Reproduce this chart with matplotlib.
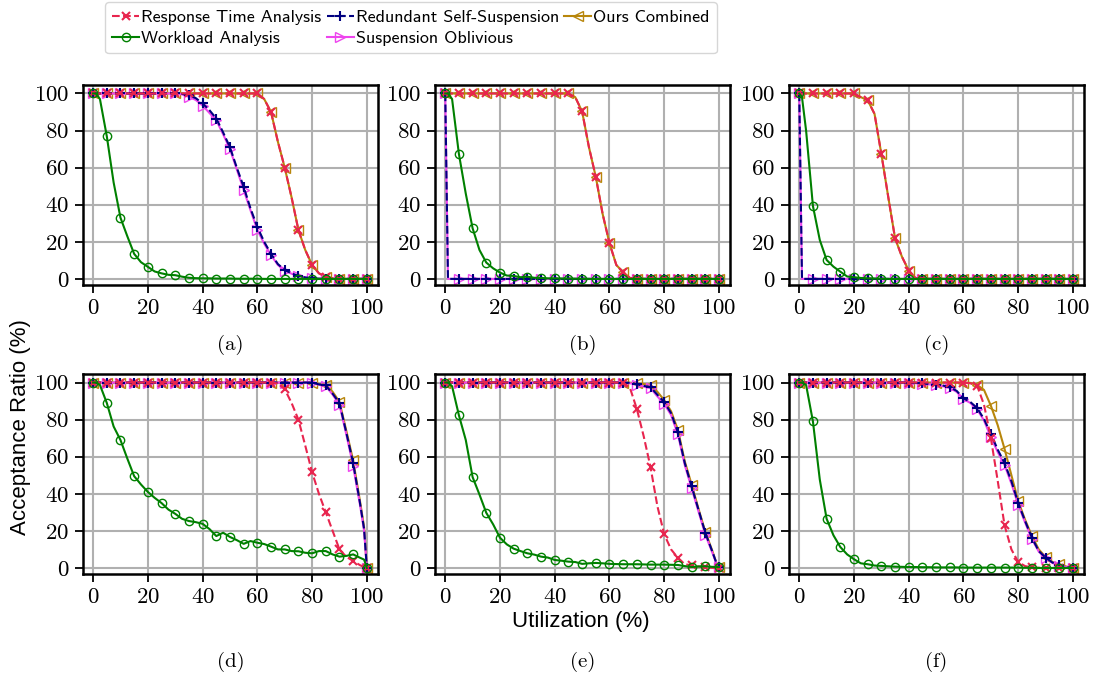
import matplotlib
matplotlib.use('Agg')
import matplotlib.pyplot as plt

plt.rcParams['axes.formatter.use_mathtext'] = True
plt.rcParams['mathtext.fontset'] = 'cm'

# utilization grid (%), markers drawn at multiples of 5
util = [0, 1, 2.5, 5, 7.5, 10, 12.5, 15, 17.5, 20, 22.5, 25, 27.5, 30, 32.5, 35, 37.5, 40,
        42.5, 45, 47.5, 50, 52.5, 55, 57.5, 60, 62.5, 65, 67.5, 70, 72.5, 75, 77.5, 80,
        82.5, 85, 87.5, 90, 92.5, 95, 97.5, 99, 100]

labels = ["Response Time Analysis", "Workload Analysis", "Redundant Self-Suspension",
          "Suspension Oblivious", "Ours Combined"]
panels = ["(a)", "(b)", "(c)", "(d)", "(e)", "(f)"]

# (a)
rta_a = [100, 100, 100, 100, 100, 100, 100, 100, 100, 100, 100, 100, 100, 100, 100, 100, 100, 100,
         100, 100, 100, 100, 100, 100, 100, 100, 97, 90, 74, 60, 44, 26.4, 15.6, 7.5,
         3, 1.2, 0.3, 0, 0, 0, 0, 0, 0]
wl_a = [100, 100, 97, 77, 52, 33, 23, 13.5, 9, 6.5, 4, 3, 2.2, 2, 1.2, 0.6, 0.4, 0.3,
        0.3, 0.2, 0.2, 0.2, 0.1, 0.1, 0.1, 0.1, 0, 0, 0, 0, 0, 0, 0, 0,
        0, 0, 0, 0, 0, 0, 0, 0, 0]
rss_a = [100, 100, 100, 100, 100, 100, 100, 100, 100, 100, 100, 100, 100, 100, 99.8, 99, 97.5, 94.6,
         91, 86.5, 79, 71, 60, 49.7, 38, 28, 20, 13.5, 8, 4.8, 3, 1.6, 0.8, 0.3,
         0.1, 0, 0, 0, 0, 0, 0, 0, 0]
so_a = [100, 100, 100, 100, 100, 100, 100, 100, 100, 100, 100, 100, 100, 100, 99.5, 98.2, 96.5, 93.5,
        89.5, 85.6, 78, 70, 59, 48, 37, 26.4, 19, 12.8, 7.5, 4.5, 2.8, 1.5, 0.7, 0.3,
        0.1, 0, 0, 0, 0, 0, 0, 0, 0]
ours_a = [100, 100, 100, 100, 100, 100, 100, 100, 100, 100, 100, 100, 100, 100, 100, 100, 100, 100,
          100, 100, 100, 100, 100, 100, 100, 100, 97, 90, 74, 60, 44, 26.4, 15.6, 7.5,
          3, 1.2, 0.3, 0, 0, 0, 0, 0, 0]

# (b)
rta_b = [100, 100, 100, 100, 100, 100, 100, 100, 100, 100, 100, 100, 100, 100, 100, 100, 100, 100,
         100, 100, 98, 90.3, 71, 55, 35, 19.2, 7.5, 3.6, 0.5, 0.1, 0, 0, 0, 0,
         0, 0, 0, 0, 0, 0, 0, 0, 0]
wl_b = [100, 100, 97, 67.3, 46, 27.3, 15.6, 8.8, 5.7, 3.4, 1.8, 1.6, 0.9, 1.2, 0.6, 0.5, 0.3, 0.3,
        0.2, 0.2, 0.1, 0.1, 0, 0, 0, 0, 0, 0, 0, 0, 0, 0, 0, 0,
        0, 0, 0, 0, 0, 0, 0, 0, 0]
rss_b = [100, 0, 0, 0, 0, 0, 0, 0, 0, 0, 0, 0, 0, 0, 0, 0, 0, 0,
         0, 0, 0, 0, 0, 0, 0, 0, 0, 0, 0, 0, 0, 0, 0, 0,
         0, 0, 0, 0, 0, 0, 0, 0, 0]
so_b = [100, 0, 0, 0, 0, 0, 0, 0, 0, 0, 0, 0, 0, 0, 0, 0, 0, 0,
        0, 0, 0, 0, 0, 0, 0, 0, 0, 0, 0, 0, 0, 0, 0, 0,
        0, 0, 0, 0, 0, 0, 0, 0, 0]
ours_b = [100, 100, 100, 100, 100, 100, 100, 100, 100, 100, 100, 100, 100, 100, 100, 100, 100, 100,
          100, 100, 98, 90.3, 71, 55, 35, 19.2, 7.5, 3.6, 0.5, 0.1, 0, 0, 0, 0,
          0, 0, 0, 0, 0, 0, 0, 0, 0]

# (c)
rta_c = [100, 100, 100, 100, 100, 100, 100, 100, 100, 100, 98, 96.4, 89, 67.3, 44.3, 21.9, 12, 4.5,
         0.4, 0.1, 0, 0, 0, 0, 0, 0, 0, 0, 0, 0, 0, 0, 0, 0,
         0, 0, 0, 0, 0, 0, 0, 0, 0]
wl_c = [100, 98, 80, 39.3, 21, 10.2, 6.6, 3.9, 1.3, 0.9, 0.5, 0.3, 0.2, 0.1, 0, 0, 0, 0,
        0, 0, 0, 0, 0, 0, 0, 0, 0, 0, 0, 0, 0, 0, 0, 0,
        0, 0, 0, 0, 0, 0, 0, 0, 0]
rss_c = [100, 0, 0, 0, 0, 0, 0, 0, 0, 0, 0, 0, 0, 0, 0, 0, 0, 0,
         0, 0, 0, 0, 0, 0, 0, 0, 0, 0, 0, 0, 0, 0, 0, 0,
         0, 0, 0, 0, 0, 0, 0, 0, 0]
so_c = [100, 0, 0, 0, 0, 0, 0, 0, 0, 0, 0, 0, 0, 0, 0, 0, 0, 0,
        0, 0, 0, 0, 0, 0, 0, 0, 0, 0, 0, 0, 0, 0, 0, 0,
        0, 0, 0, 0, 0, 0, 0, 0, 0]
ours_c = [100, 100, 100, 100, 100, 100, 100, 100, 100, 100, 98, 96.4, 89, 67.3, 44.3, 21.9, 12, 4.5,
          0.4, 0.1, 0, 0, 0, 0, 0, 0, 0, 0, 0, 0, 0, 0, 0, 0,
          0, 0, 0, 0, 0, 0, 0, 0, 0]

# (d)
rta_d = [100, 100, 100, 100, 100, 100, 100, 100, 100, 100, 100, 100, 100, 100, 100, 100, 100, 100,
         100, 100, 100, 100, 100, 100, 100, 100, 100, 100, 99.5, 96.4, 89, 80, 66, 51.6,
         40, 30, 20, 10, 6, 3.8, 1.5, 0.5, 0]
wl_d = [100, 100, 98.7, 89, 76.3, 69, 59, 49.5, 45, 41, 37.8, 35, 31.5, 29.2, 26.5, 25.3, 24.7, 23.8,
        21, 17.2, 19, 16.7, 15, 13, 14.5, 13.6, 12.9, 11.5, 10, 10, 9.1, 9, 8.2, 7.9,
        9.1, 9.1, 7.3, 6.1, 6.5, 7.3, 5.5, 4.5, 0]
rss_d = [100, 100, 100, 100, 100, 100, 100, 100, 100, 100, 100, 100, 100, 100, 100, 100, 100, 100,
         100, 100, 100, 100, 100, 100, 100, 100, 100, 100, 100, 100, 100, 100, 100, 100,
         99, 98.4, 94, 89, 73, 56.6, 35, 21, 0]
so_d = [100, 100, 100, 100, 100, 100, 100, 100, 100, 100, 100, 100, 100, 100, 100, 100, 100, 100,
        100, 100, 100, 100, 100, 100, 100, 100, 100, 100, 100, 100, 100, 100, 100, 100,
        98.8, 98, 93.5, 88, 72, 55, 34, 20, 0]
ours_d = [100, 100, 100, 100, 100, 100, 100, 100, 100, 100, 100, 100, 100, 100, 100, 100, 100, 100,
          100, 100, 100, 100, 100, 100, 100, 100, 100, 100, 100, 100, 100, 100, 100, 100,
          99.2, 98.8, 95, 89.6, 74, 58, 36, 22, 0]

# (e)
rta_e = [100, 100, 100, 100, 100, 100, 100, 100, 100, 100, 100, 100, 100, 100, 100, 100, 100, 100,
         100, 100, 100, 100, 100, 100, 100, 100, 100, 100, 97, 85.7, 71, 54.3, 33.3, 18.1,
         10, 5.4, 2, 1.4, 0.8, 0.3, 0.1, 0, 0]
wl_e = [100, 100, 98, 82.3, 69, 49, 39.6, 29.7, 23.5, 16.3, 12.7, 10.4, 9.1, 7.9, 7.2, 6.1, 5.6, 4.3,
        3.9, 3.4, 3.2, 2.2, 2.5, 2.7, 2.5, 2.2, 2.1, 2, 2, 2, 1.9, 1.8, 1.8, 1.8,
        1.7, 1.6, 1, 0.5, 0.8, 0.9, 0.6, 0.5, 0.5]
rss_e = [100, 100, 100, 100, 100, 100, 100, 100, 100, 100, 100, 100, 100, 100, 100, 100, 100, 100,
         100, 100, 100, 100, 100, 100, 100, 100, 100, 100, 99.8, 99.1, 98.2, 97.5, 93.4, 89.4,
         83.5, 73.1, 56.6, 44, 31.5, 19, 9.1, 2.9, 0.5]
so_e = [100, 100, 100, 100, 100, 100, 100, 100, 100, 100, 100, 100, 100, 100, 100, 100, 100, 100,
        100, 100, 100, 100, 100, 100, 100, 100, 100, 100, 99.6, 98.8, 97.8, 97, 92.5, 88.5,
        82.5, 72, 55.5, 43, 30.5, 18, 8.5, 2.7, 0.5]
ours_e = [100, 100, 100, 100, 100, 100, 100, 100, 100, 100, 100, 100, 100, 100, 100, 100, 100, 100,
          100, 100, 100, 100, 100, 100, 100, 100, 100, 100, 99.9, 99.6, 99.2, 98.8, 95, 90.5,
          84.5, 74.5, 57.5, 45, 32, 19.5, 9.5, 3, 0.5]

# (f)
rta_f = [100, 100, 100, 100, 100, 100, 100, 100, 100, 100, 100, 100, 100, 100, 100, 100, 100, 100,
         100, 100, 100, 100, 100, 100, 100, 100, 99.6, 98.2, 88, 70, 47, 23, 10, 3.2,
         1, 0.3, 0.1, 0, 0, 0, 0, 0, 0]
wl_f = [100, 100, 98.7, 79, 47.7, 26.5, 17.6, 11.3, 7.3, 4.7, 2.5, 2, 1.3, 1.1, 0.9, 0.7, 0.6, 0.5,
        0.5, 0.4, 0.4, 0.3, 0.3, 0.3, 0.3, 0.2, 0.2, 0.2, 0.2, 0.2, 0.2, 0.2, 0.2, 0.2,
        0.1, 0.1, 0, 0, 0, 0, 0, 0, 0]
rss_f = [100, 100, 100, 100, 100, 100, 100, 100, 100, 100, 100, 100, 100, 100, 100, 100, 100, 100,
         99.8, 99.5, 99.2, 98.9, 98.4, 97.5, 95.5, 91.5, 89.5, 86.2, 80.3, 72.4, 63.8, 56.6, 46.8, 35,
         25.3, 16.3, 9.1, 5.6, 2.9, 1.4, 0.5, 0.2, 0]
so_f = [100, 100, 100, 100, 100, 100, 100, 100, 100, 100, 100, 100, 100, 100, 100, 100, 100, 100,
        99.7, 99.3, 99, 98.6, 98, 97, 95, 91, 89, 85.5, 79.5, 70.5, 62.5, 55.5, 45.5, 34,
        24.5, 15.5, 8.8, 5.3, 2.7, 1.3, 0.5, 0.2, 0]
ours_f = [100, 100, 100, 100, 100, 100, 100, 100, 100, 100, 100, 100, 100, 100, 100, 100, 100, 100,
          100, 100, 100, 100, 100, 100, 100, 100, 99.8, 98.7, 96, 87.5, 77, 64.2, 50, 36,
          26, 17.2, 10, 5.9, 3.2, 2, 0.8, 0.3, 0]

all_data = [
    (rta_a, wl_a, rss_a, so_a, ours_a),
    (rta_b, wl_b, rss_b, so_b, ours_b),
    (rta_c, wl_c, rss_c, so_c, ours_c),
    (rta_d, wl_d, rss_d, so_d, ours_d),
    (rta_e, wl_e, rss_e, so_e, ours_e),
    (rta_f, wl_f, rss_f, so_f, ours_f),
]

mark_idx = [i for i, u in enumerate(util) if u % 5 == 0]

fig = plt.figure(figsize=(10.96, 6.73), dpi=100)

lefts = [0.0757, 0.397, 0.720]
bottoms = [0.5765, 0.147]
w, h = 0.269, 0.297

handles = None
for k, (rta, wl, rss, so, ours) in enumerate(all_data):
    row, col = divmod(k, 3)
    ax = fig.add_axes([lefts[col], bottoms[row], w, h])
    ax.grid(True, color='#b0b0b0', linewidth=1.5)
    ax.set_axisbelow(True)
    l5, = ax.plot(util, ours, color='#b8860b', marker='<', markevery=mark_idx, mfc='none',
                  ms=7, lw=1.5, label=labels[4])
    l4, = ax.plot(util, so, color='#ee44ee', marker='>', markevery=mark_idx, mfc='none',
                  ms=7, lw=1.5, label=labels[3])
    l3, = ax.plot(util, rss, color='#000080', ls='--', marker='+', markevery=mark_idx,
                  ms=7, mew=1.5, lw=1.5, label=labels[2])
    l1, = ax.plot(util, rta, color='#e8254e', ls='--', marker='x', markevery=mark_idx,
                  ms=6, mew=1.5, lw=1.5, label=labels[0])
    l2, = ax.plot(util, wl, color='green', marker='o', markevery=mark_idx, mfc='none',
                  ms=6, lw=1.5, label=labels[1])
    handles = [l1, l2, l3, l4, l5]
    ax.set_xlim(-3.7, 104)
    ax.set_ylim(-3.3, 104.5)
    ax.set_xticks([0, 20, 40, 60, 80, 100])
    ax.set_yticks([0, 20, 40, 60, 80, 100])
    for t in ax.get_xticklabels() + ax.get_yticklabels():
        t.set_fontfamily('cmr10')
        t.set_fontsize(16.5)
    ax.tick_params(width=1.3, length=6, pad=4)
    for s in ax.spines.values():
        s.set_linewidth(1.8)
    ax.text(0.5, -0.30 if row == 0 else -0.44, panels[k], transform=ax.transAxes,
            ha='center', va='center', fontsize=15, family='cmr10')

fig.text(0.53, 0.076, 'Utilization (%)', ha='center', va='center', fontsize=16,
         family='Liberation Sans')
fig.text(0.019, 0.365, 'Acceptance Ratio (%)', ha='center', va='center', rotation=90,
         fontsize=16, family='Liberation Sans')

fig.legend(handles, labels, loc='upper left', bbox_to_anchor=(105 / 1096, 1 - 2 / 673), ncol=3,
           prop={'family': 'cmss10', 'size': 13}, handlelength=1.5, handletextpad=0.1,
           columnspacing=0.3, labelspacing=0.3, borderpad=0.4, borderaxespad=0,
           fancybox=True)

fig.savefig('out.png', dpi=100)
